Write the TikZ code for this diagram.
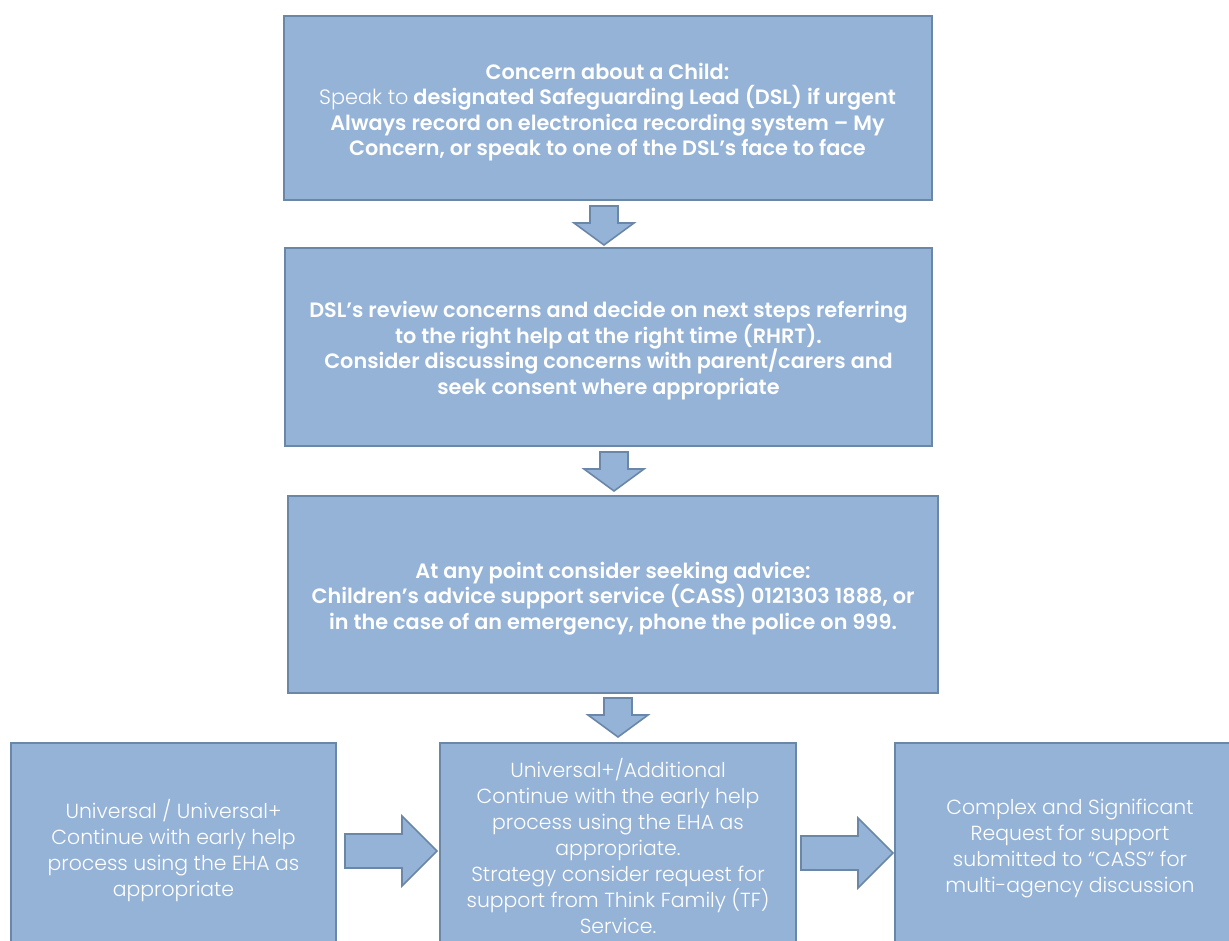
\documentclass[tikz,border=0pt]{standalone}
\usepackage{fontspec}
\setmainfont{Poppins}
\newfontfamily\poplight{Poppins Light}
\newfontfamily\popsemi{Poppins SemiBold}
\definecolor{boxfill}{RGB}{149,179,215}
\definecolor{boxline}{RGB}{106,135,168}
\begin{document}
\begin{tikzpicture}[x=1pt,y=-1pt,
  box/.style={draw=boxline, line width=2pt, fill=boxfill, inner sep=0pt},
  boxtext/.style={text=white, align=center, inner sep=0pt},
  toptext/.style={boxtext, font=\fontsize{20.8}{25.5}\selectfont\popsemi},
  lowtext/.style={boxtext, font=\fontsize{20.4}{26}\selectfont\poplight},
  blockarrow/.style={draw=boxline, line width=1.6pt, fill=boxfill, line join=miter},
  darrow/.pic={\draw[blockarrow] (-14,0) -- (14,0) -- (14,17) -- (30,17) -- (0,39) -- (-30,17) -- (-14,17) -- cycle;},
  rarrow/.pic={\draw[blockarrow] (0,-17) -- (57,-17) -- (57,-35) -- (92,0) -- (57,35) -- (57,17) -- (0,17) -- cycle;}]
\useasboundingbox (0,0) rectangle (1229,941);
\clip (0,0) rectangle (1229,941);
\fill[white] (0,0) rectangle (1229,941);

% boxes
\node[box, minimum width=648, minimum height=184] (c1) at (607.5,108) {};
\node[box, minimum width=647, minimum height=198] (c2) at (608.5,347) {};
\node[box, minimum width=650, minimum height=197] (c3) at (613,594.5) {};
\node[box, minimum width=325, minimum height=212] (u1) at (173.5,849) {};
\node[box, minimum width=356, minimum height=212] (u2) at (618,849) {};
\node[box, minimum width=350, minimum height=212] (u3) at (1070,849) {};

% texts
\node[toptext, yshift=-4pt] (t1) at (c1.center)
  {Concern about a Child:\\ {\poplight Speak to} designated Safeguarding Lead (DSL) if urgent\\ Always record on electronica recording system – My\\ Concern, or speak to one of the DSL’s face to face};
\node[toptext, yshift=-3.5pt] (t2) at (c2.center)
  {DSL’s review concerns and decide on next steps referring\\ to the right help at the right time (RHRT).\\ Consider discussing concerns with parent/carers and\\ seek consent where appropriate};
\node[toptext, yshift=-4pt] (t3) at (c3.center)
  {At any point consider seeking advice:\\ Children’s advice support service (CASS) 0121303 1888, or\\ in the case of an emergency, phone the police on 999.};
\node[lowtext, yshift=-2pt] (s1) at (u1.center)
  {Universal / Universal+\\ Continue with early help\\ process using the EHA as\\ appropriate};
\node[lowtext, yshift=3.5pt] (s2) at (u2.center)
  {Universal+/Additional\\ Continue with the early help\\ process using the EHA as\\ appropriate.\\ Strategy consider request for\\ support from Think Family (TF)\\ Service.};
\node[lowtext] (s3) at (u3.center)
  {Complex and Significant\\ Request for support\\ submitted to “CASS” for\\ multi-agency discussion};

% block arrows
\coordinate (a1) at (604,206);
\coordinate (a2) at (614,452);
\coordinate (a3) at (618,698);
\coordinate (a4) at (345,851);
\coordinate (a5) at (801,853);
\pic at (a1) {darrow};
\pic at (a2) {darrow};
\pic at (a3) {darrow};
\pic at (a4) {rarrow};
\pic at (a5) {rarrow};
\end{tikzpicture}
\end{document}
